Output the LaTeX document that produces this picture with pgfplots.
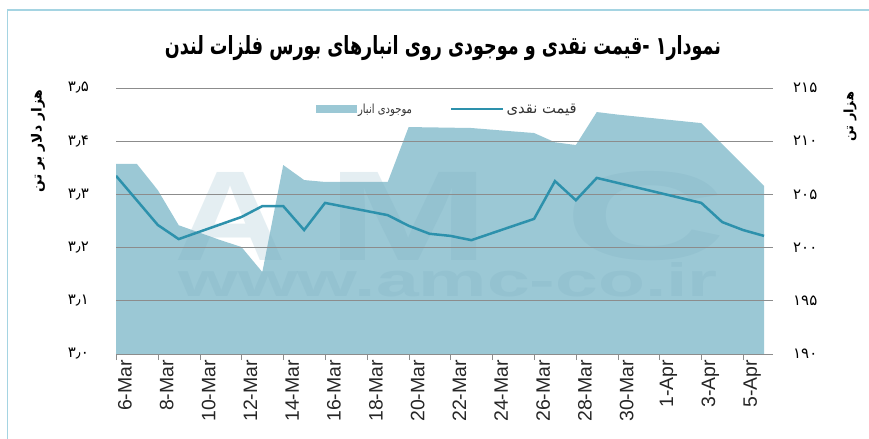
\documentclass[border=0pt]{standalone}
\usepackage{fontspec}
\usepackage{graphicx}
\usepackage{pgfplots}
\pgfplotsset{compat=1.18}
\setmainfont{Liberation Sans}
\newfontfamily\fa[Script=Arabic]{DejaVu Sans}
\TeXXeTstate=1
\definecolor{areacol}{RGB}{155,200,213}
\definecolor{linecol}{RGB}{45,145,172}
\definecolor{gridcol}{RGB}{140,140,140}
\definecolor{framecol}{RGB}{165,212,226}
\definecolor{wmcol}{RGB}{120,170,190}

\pgfplotstableread{
day stock
0 207.86
1 207.86
2 205.4
3 202.1
4 201.4
5 200.7
6 200.06
7 197.7
8 207.76
9 206.35
10 206.17
11 206.17
12 206.17
13 206.17
14 211.33
15 211.30
16 211.27
17 211.24
18 211.08
19 210.92
20 210.77
21 209.9
22 209.64
23 212.74
24 212.5
25 212.3
26 212.1
27 211.9
28 211.7
29 209.73
30 207.77
31 205.8
}\stocktable

\pgfplotstableread{
day price
0 3.335
2 3.2425
3 3.216
6 3.2575
7 3.278
8 3.278
9 3.233
10 3.284
13 3.261
14 3.241
15 3.226
16 3.222
17 3.214
20 3.254
21 3.325
22 3.289
23 3.331
28 3.284
29 3.248
30 3.233
31 3.222
}\pricetable

\begin{document}
\begin{tikzpicture}
\path[use as bounding box] (0bp,0bp) rectangle (869bp,439bp);
\draw[framecol, line width=1.5bp] (7.5bp,0bp) -- (7.5bp,429bp) -- (869bp,429bp);
% title
\node[anchor=base, inner sep=0pt] at (443bp,384bp) {\resizebox{556bp}{19bp}{\fa\bfseries\beginR نمودار۱ -قیمت نقدی و موجودی روی انبارهای بورس فلزات لندن\endR}};
% axis titles
\node[rotate=90, inner sep=0pt] at (38bp,298bp) {\resizebox{103bp}{!}{\fa\bfseries\beginR هزار دلار بر تن\endR}};
\node[rotate=90, inner sep=0pt] at (850bp,322bp) {\resizebox{50bp}{!}{\fa\bfseries\beginR هزار تن\endR}};

% stock axis (right)
\begin{axis}[
  at={(116bp,85bp)}, anchor=south west, scale only axis,
  width=657bp, height=266bp,
  xmin=0, xmax=31.43, ymin=190, ymax=215,
  axis y line*=right, axis x line=none, xtick=\empty,
  y axis line style={draw=none},
  ytick={190,195,200,205,210,215},
  yticklabels={۱۹۰,۱۹۵,۲۰۰,۲۰۵,۲۱۰,۲۱۵},
  yticklabel style={font=\fa\fontsize{15}{15}\selectfont, anchor=west, inner sep=0pt, xshift=20bp},
  ytick style={draw=none},
]
\addplot[fill=areacol, draw=none] table[x=day, y=stock] {\stocktable} \closedcycle;
\end{axis}

% watermark
\begin{scope}[opacity=0.2]
\node[text=wmcol, inner sep=0pt] at (231bp,223bp) {\resizebox{112bp}{88bp}{\bfseries A}};
\node[text=wmcol, inner sep=0pt] at (409bp,223bp) {\resizebox{162bp}{88bp}{\bfseries M}};
\node[text=wmcol, inner sep=0pt] at (646bp,223bp) {\resizebox{162bp}{88bp}{\bfseries C}};
\node[text=wmcol, inner sep=0pt, anchor=base] at (448bp,142bp) {\resizebox{539bp}{34bp}{\bfseries www.amc-co.ir}};
\end{scope}

% price axis (left)
\begin{axis}[
  at={(116bp,85bp)}, anchor=south west, scale only axis,
  width=657bp, height=266bp,
  xmin=0, xmax=31.43, ymin=3, ymax=3.5,
  axis x line*=bottom, axis y line*=left,
  x axis line style={-, draw=gridcol},
  y axis line style={draw=none},
  xtick={0,2,...,30},
  xticklabels={6-Mar,8-Mar,10-Mar,12-Mar,14-Mar,16-Mar,18-Mar,20-Mar,22-Mar,24-Mar,26-Mar,28-Mar,30-Mar,1-Apr,3-Apr,5-Apr},
  xticklabel style={rotate=90, anchor=east, font=\fontsize{19.5}{19.5}\selectfont, text=black!85, inner sep=0pt, yshift=-9bp},
  tick align=outside, xtick style={draw=gridcol}, major tick length=6bp,
  ytick={3,3.1,3.2,3.3,3.4,3.5},
  yticklabels={۳٫۰,۳٫۱,۳٫۲,۳٫۳,۳٫۴,۳٫۵},
  yticklabel style={font=\fa\fontsize{15}{15}\selectfont, anchor=east, inner sep=0pt, xshift=-21bp},
  ytick style={draw=none},
  ymajorgrids, grid style={gridcol, line width=0.8bp},
  legend style={at={(0.504,0.921)}, anchor=center, draw=none, fill=none, legend columns=2,
    font=\fa\fontsize{13}{13}\selectfont, text=black!80,
    /tikz/every even column/.append style={column sep=36bp}},
]
\addlegendimage{legend image code/.code={\fill[areacol] (0bp,-3.5bp) rectangle (40bp,3.5bp);}}
\addlegendentry{\resizebox{54bp}{9.5bp}{\beginR موجودی انبار\endR}}
\addplot[linecol, line width=2.5bp,
  legend image code/.code={\draw[linecol, line width=2.5bp] (0bp,0bp) -- (28bp,0bp); \path (0bp,0bp) -- (52bp,0bp);}]
  table[x=day, y=price] {\pricetable};
\addlegendentry{\resizebox{70bp}{9.5bp}{\beginR قیمت نقدی\endR}}
\end{axis}
\end{tikzpicture}
\end{document}
